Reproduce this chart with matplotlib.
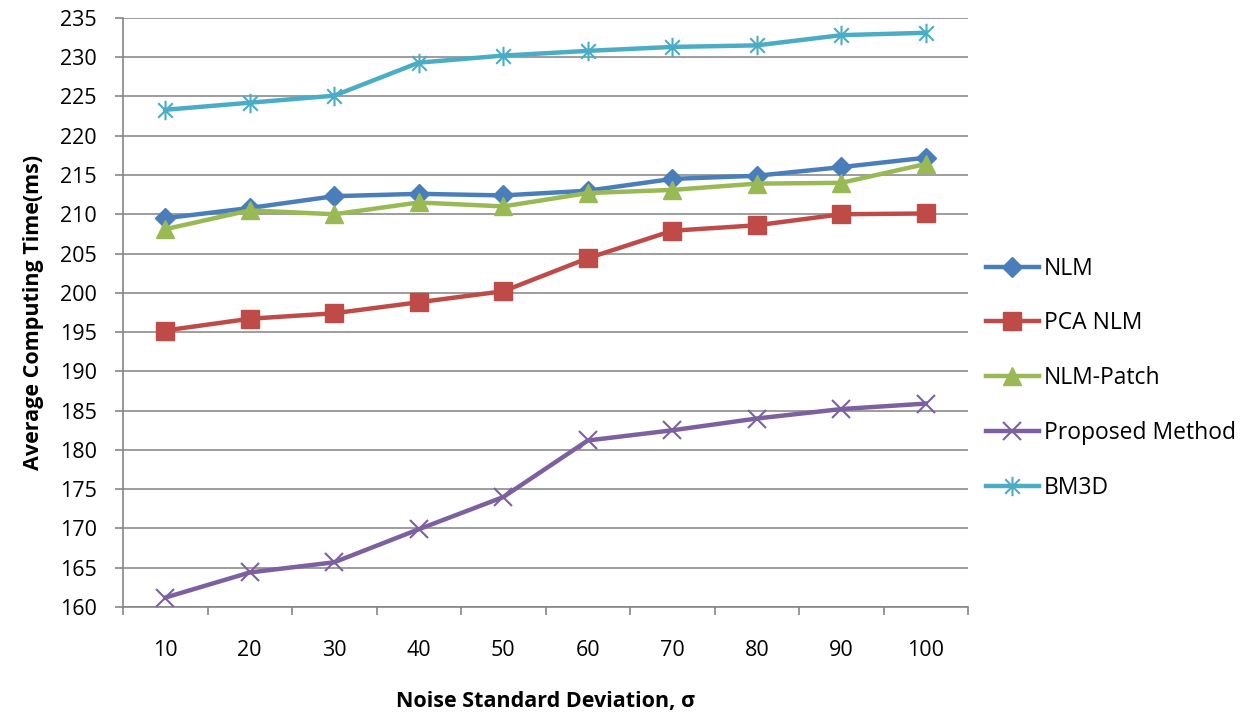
import numpy as np
import matplotlib
matplotlib.use('Agg')
import matplotlib.pyplot as plt
from matplotlib.path import Path

plt.rcParams['font.family'] = ['Open Sans', 'DejaVu Sans']

sigma = ['10', '20', '30', '40', '50', '60', '70', '80', '90', '100']
nlm = [209.5, 210.8, 212.3, 212.6, 212.4, 213.0, 214.5, 214.9, 216.0, 217.2]
pca_nlm = [195.2, 196.7, 197.4, 198.8, 200.2, 204.4, 207.9, 208.6, 210.0, 210.1]
nlm_patch = [208.1, 210.5, 210.0, 211.5, 211.0, 212.7, 213.1, 213.9, 214.0, 216.4]
proposed = [161.2, 164.4, 165.7, 169.9, 174.0, 181.2, 182.5, 184.0, 185.2, 185.9]
bm3d = [223.3, 224.2, 225.1, 229.3, 230.2, 230.8, 231.3, 231.5, 232.8, 233.1]

# excel style star: vertical bar + X
star = Path([(0, -1), (0, 1), (-0.75, -0.75), (0.75, 0.75), (-0.75, 0.75), (0.75, -0.75)],
            [Path.MOVETO, Path.LINETO, Path.MOVETO, Path.LINETO, Path.MOVETO, Path.LINETO])

fig = plt.figure(figsize=(12.5, 7.15), dpi=100)
ax = fig.add_axes([0.0984, 0.151, 0.676, 0.824])

x = np.arange(len(sigma))
ax.plot(x, nlm, color='#4A7EBB', lw=3.2, marker='D', ms=10, label='NLM', zorder=3)
ax.plot(x, pca_nlm, color='#BE4B48', lw=3.2, marker='s', ms=13, label='PCA NLM', zorder=3)
ax.plot(x, nlm_patch, color='#98B954', lw=3.2, marker='^', ms=13, label='NLM-Patch', zorder=3)
ax.plot(x, proposed, color='#7D60A0', lw=3.2, marker='x', ms=13, mew=1.5, label='Proposed Method', zorder=3)
ax.plot(x, bm3d, color='#4BACC6', lw=3.2, marker=star, ms=14, mew=1.5, label='BM3D', zorder=3)

ax.set_xlim(-0.5, len(sigma) - 0.5)
ax.set_ylim(160, 235)
ax.set_yticks(np.arange(160, 236, 5))
ax.set_xticks(x)
ax.set_xticklabels(sigma)
ax.set_xticks(np.arange(-0.5, len(sigma), 1), minor=True)

ax.yaxis.grid(True, color='#8C8C8C', lw=1.2)
ax.set_axisbelow(True)
for s in ['top', 'right']:
    ax.spines[s].set_visible(False)
for s in ['left', 'bottom']:
    ax.spines[s].set_color('#868686')
    ax.spines[s].set_linewidth(1.2)

ax.tick_params(axis='y', length=6, width=1.2, color='#868686', labelsize=15.5, pad=13)
ax.tick_params(axis='x', which='major', length=0, labelsize=15.5, pad=24)
ax.tick_params(axis='x', which='minor', length=6, width=1.2, color='#868686')

ax.set_ylabel('Average Computing Time(ms)', fontsize=15.5, fontweight='bold', labelpad=11)
ax.set_xlabel('Noise Standard Deviation, σ', fontsize=15.5, fontweight='bold', labelpad=21)

fig.legend(loc='upper left', bbox_to_anchor=(0.7795, 0.657), frameon=False, fontsize=16.5,
           handlelength=2.3, handletextpad=0.22, labelspacing=1.34, borderpad=0)

plt.savefig('out.png', dpi=100)
